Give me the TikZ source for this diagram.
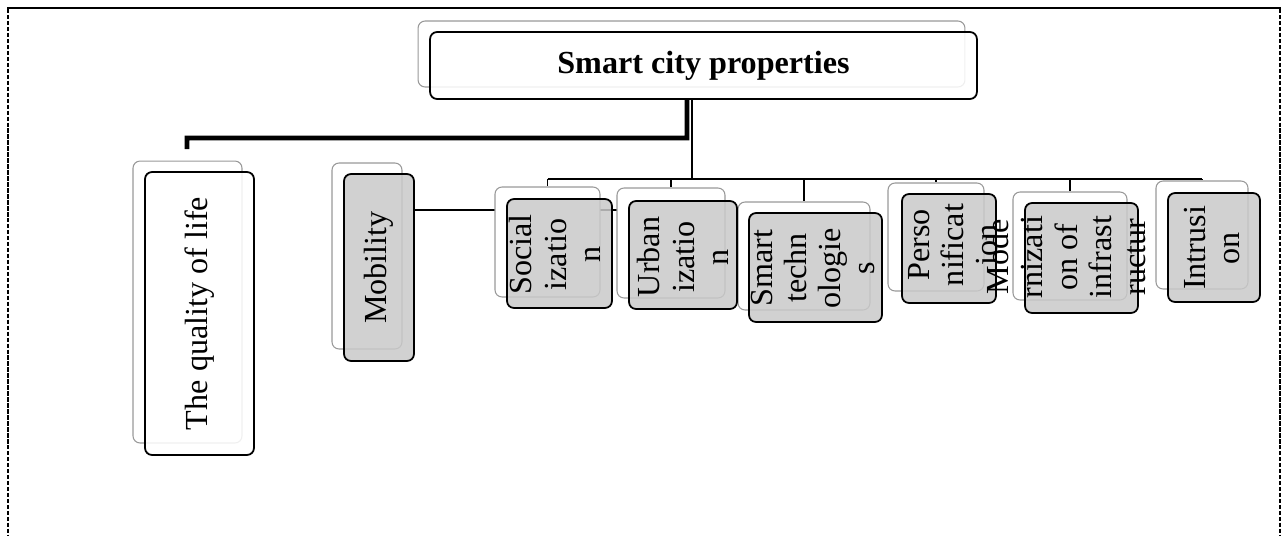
\documentclass[tikz,border=0pt]{standalone}
\usepackage{fontspec}
\setmainfont{Liberation Serif}
\usetikzlibrary{backgrounds}
\tikzset{
  card/.style={draw=black, line width=1pt, rounded corners=4pt, fill opacity=0.85, text opacity=1,
    inner sep=0pt, align=center, font=\fontsize{18.3}{19.5}\selectfont},
  whitecard/.style={card, fill=white},
  graycard/.style={card, fill=black!21},
  backcard/.style={draw=black!40, line width=0.6pt, rounded corners=4pt, fill=white, inner sep=0pt},
  celltext/.style={rotate=90, align=center, inner sep=0pt, font=\fontsize{18.3}{19.5}\selectfont},
  link/.style={draw=black, line width=1.1pt},
  trunk/.style={draw=black, line width=2.8pt},
  frameline/.style={draw=black, line width=1.2pt},
}

\begin{document}
\begin{tikzpicture}[x=0.02cm, y=-0.02cm]
\useasboundingbox (0,0) rectangle (1286,535);
% page frame
\draw[frameline] (7,8) -- (1281,8);
\draw[frameline, dash pattern=on 2.5pt off 0.9pt] (8,9) -- (8,535);
\draw[frameline, dash pattern=on 2.5pt off 0.9pt] (1280,9) -- (1280,535);

% back cards
\node[backcard, minimum width=10.94cm, minimum height=1.32cm] (top-b) at (691.5,54) {};
\node[backcard, minimum width=2.18cm, minimum height=5.64cm] (life-b) at (187.5,302) {};
\node[backcard, minimum width=1.40cm, minimum height=3.72cm] (mob-b) at (367,256) {};
\node[backcard, minimum width=2.10cm, minimum height=2.20cm] (soc-b) at (547.5,242) {};
\node[backcard, minimum width=2.16cm, minimum height=2.20cm] (urb-b) at (671,243) {};
\node[backcard, minimum width=2.64cm, minimum height=2.16cm] (smt-b) at (804,256) {};
\node[backcard, minimum width=1.92cm, minimum height=2.16cm] (per-b) at (936,237) {};
\node[backcard, minimum width=2.28cm, minimum height=2.16cm] (mod-b) at (1070,246) {};
\node[backcard, minimum width=1.84cm, minimum height=2.16cm] (int-b) at (1202,235) {};

% front cards
\node[whitecard, minimum width=10.94cm, minimum height=1.34cm, font=\fontsize{18.3}{19.5}\selectfont\bfseries] (top) at (703.5,65.5) {Smart city properties};
\node[whitecard, rotate=90, minimum width=5.66cm, minimum height=2.18cm] (life) at (199.5,313.5) {The quality of life};
\node[graycard, rotate=90, minimum width=3.74cm, minimum height=1.40cm] (mob) at (379,267.5) {Mobility};
\node[graycard, minimum width=2.10cm, minimum height=2.18cm] (soc) at (559.5,253.5) {};
\node[graycard, minimum width=2.16cm, minimum height=2.16cm] (urb) at (683,255) {};
\node[graycard, minimum width=2.66cm, minimum height=2.18cm] (smt) at (815.5,267.5) {};
\node[graycard, minimum width=1.88cm, minimum height=2.18cm] (per) at (949,248.5) {};
\node[graycard, minimum width=2.26cm, minimum height=2.20cm] (mod) at (1081.5,258) {};
\node[graycard, minimum width=1.84cm, minimum height=2.18cm] (int) at (1214,247.5) {};

% card texts
\node[celltext] (soc-t) at (555,254.5) {Social\\izatio\\n};
\node[celltext] (urb-t) at (683,257) {Urban\\izatio\\n};
\node[celltext] (smt-t) at (813,268) {Smart\\techn\\ologie\\s};
\node[celltext] (per-t) at (953,245) {Perso\\nificat\\ion};
\node[celltext] (mod-t) at (1066,257) {Mode\\rnizati\\on of\\infrast\\ructur};
\node[celltext] (int-t) at (1212,248) {Intrusi\\on};

% connectors
\begin{scope}[on background layer]
\coordinate (elbow) at (687,138);
\coordinate (life-in) at (187,149);
\coordinate (hub) at (692,179);
\coordinate (mob-out) at (617,210);
\draw[trunk] ([xshift=-0.33cm]top.south) -- (elbow) -| (life-in);
\draw[link] ([xshift=-0.23cm]top.south) -- (hub);
\draw[link] (soc-b.north |- hub) -- (int-b.north |- hub);
\draw[link] (soc-b.north |- hub) -- (soc-b.north);
\draw[link] (urb-b.north |- hub) -- (urb-b.north);
\draw[link] (smt-b.north |- hub) -- (smt-b.north);
\draw[link] (per-b.north |- hub) -- (per-b.north);
\draw[link] (mod-b.north |- hub) -- (mod-b.north);
\draw[link] (int-b.north |- hub) -- (int-b.north);
\draw[link] (mob.south |- mob-out) -- (mob-out);
\end{scope}
\end{tikzpicture}
\end{document}
